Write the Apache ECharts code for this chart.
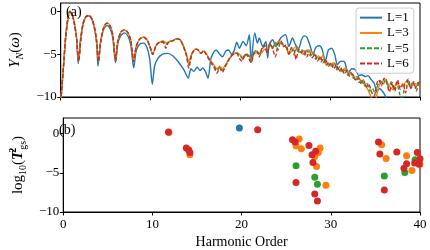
<!DOCTYPE html>
<html><head><meta charset="utf-8">
<script src="https://cdn.jsdelivr.net/npm/echarts@6/dist/echarts.min.js"></script>
<style>html,body{margin:0;padding:0;background:#fff}#c{width:430px;height:250px}</style>
</head><body><div id="c"></div>
<script>
// ---------- data ----------
const seriesNames = ['L=1', 'L=3', 'L=5', 'L=6'];
const xTicks = [0, 10, 20, 30, 40];
const yTicksTop = [-10, -5, 0];
const yTicksBottom = [-10, -5, 0];

const specL1 = [[0,-10.6],[0.3,-6.5],[0.55,-3.0],[0.8,-0.8],[1.0,0],[1.25,-0.3],[1.5,-1.3],[1.75,-3.0],[1.95,-6.1],
[2.2,-3.2],[2.5,-1.4],[2.8,-0.65],[3.15,-0.5],[3.5,-1.0],[3.8,-2.2],[4.0,-3.8],[4.15,-6.4],
[4.4,-3.8],[4.7,-2.3],[5.0,-1.7],[5.2,-1.63],[5.5,-2.0],[5.8,-3.1],[6.1,-6.0],
[6.35,-3.8],[6.7,-2.8],[7.1,-2.5],[7.5,-2.9],[7.8,-3.9],[8.13,-6.6],
[8.4,-4.6],[8.8,-3.8],[9.25,-3.7],[9.6,-4.2],[9.9,-5.5],[10.2,-8.5],
[10.45,-6.4],[10.8,-5.5],[11.3,-5.0],[11.9,-4.9],[12.5,-5.2],[13.1,-5.9],[13.7,-6.8],[14.2,-7.8],
[14.5,-6.7],[14.8,-7.0],[15.2,-6.5],[15.5,-6.9],[15.8,-6.6],[16.1,-7.0],[16.4,-7.8],
[16.7,-5.6],[17.0,-4.8],[17.3,-4.5],[17.7,-5.0],[18.0,-5.3],[18.4,-4.6],[18.7,-4.5],[19.0,-5.0],[19.3,-4.6],[19.6,-3.6],[19.9,-4.3],[20.3,-3.5],[20.65,-4.0],[21.0,-2.7],[21.2,-5.8],[21.6,-2.5],[21.9,-3.7],[22.1,-3.1],[22.5,-4.1],[22.85,-3.5],[23.04,-5.45],[23.2,-3.9],[23.6,-3.3],[23.95,-4.1],[24.2,-3.6],[24.5,-3.1],[24.8,-2.8],[25.05,-2.7],[25.4,-4.1],[25.8,-3.1],[26.15,-3.9],[26.5,-4.3],[26.8,-3.3],[27.1,-2.85],[27.4,-3.0],[27.7,-3.8],[28.1,-5.0],[28.4,-4.2],[28.8,-4.0],[29.1,-4.4],[29.45,-5.8],[29.8,-4.5],[30.15,-4.3],[30.5,-5.0],[30.8,-6.2],[31.2,-5.8],[31.6,-5.9],[32.0,-7.2],[32.4,-6.7],[32.8,-6.8],[33.2,-7.5],[33.5,-7.4],[33.9,-7.6],[34.2,-7.5],[34.6,-8.0],[34.9,-8.4],[35.2,-9.4],[35.5,-9.0],[35.8,-9.3],[36.2,-10.0],[36.6,-11.5],[40,-11.5]];

const specL3 = [[0,-10.6],[0.3,-6.5],[0.55,-3.0],[0.8,-0.8],[1.0,0],[1.25,-0.3],[1.5,-1.3],[1.75,-3.0],[2.0,-5.8],
[2.25,-3.1],[2.5,-1.4],[2.8,-0.6],[3.15,-0.45],[3.5,-0.95],[3.8,-2.1],[4.0,-3.5],[4.2,-5.85],
[4.45,-3.5],[4.75,-2.0],[5.0,-1.45],[5.2,-1.36],[5.5,-1.7],[5.8,-2.8],[6.1,-5.75],
[6.35,-3.5],[6.7,-2.4],[7.1,-2.14],[7.5,-2.5],[7.8,-3.4],[8.13,-5.85],
[8.4,-4.1],[8.8,-3.2],[9.25,-3.0],[9.6,-3.3],[9.9,-4.0],[10.25,-5.0],
[10.6,-4.0],[11.0,-3.6],[11.4,-3.45],[11.8,-3.7],[12.2,-3.5],[12.5,-3.4],[12.9,-3.15],[13.3,-3.3],[13.7,-4.1],[14.0,-5.0],[14.25,-5.9],
[14.6,-4.9],[15.0,-4.4],[15.3,-4.5],[15.6,-4.9],[15.9,-4.6],[16.2,-4.9],[16.5,-5.5],[16.8,-5.9],[17.1,-6.3],[17.4,-6.7],[17.7,-6.4],[18.0,-6.7],[18.3,-6.3],[18.6,-5.8],[18.9,-5.4],[19.2,-5.0],[19.6,-4.8],[20.0,-5.1],[20.3,-5.4],[20.7,-5.0],[21.0,-5.2],[21.2,-5.7],[21.5,-5.0],[21.9,-4.8],[22.3,-4.9],[22.7,-4.4],[23.0,-4.6],[23.2,-3.9],[23.6,-4.1],[24.0,-3.7],[24.3,-3.5],[24.7,-3.9],[25.05,-4.1],[25.4,-5.0],[25.8,-4.5],[26.15,-4.1],[26.6,-4.7],[27.0,-5.0],[27.3,-4.6],[27.6,-4.5],[28.1,-4.9],[28.5,-5.2],[28.9,-5.6],[29.2,-5.1],[29.5,-6.2],[29.9,-6.2],[30.4,-6.0],[30.8,-6.6],[31.2,-7.0],[31.7,-6.6],[32.0,-7.1],[32.4,-7.4],[32.9,-8.0],[33.2,-7.8],[33.5,-8.2],[33.9,-8.6],[34.2,-9.15],[34.6,-10.1],[34.9,-10.6],[35.1,-10.2],[35.4,-8.8],[35.8,-8.2],[36.15,-8.0],[36.5,-8.6],[37.0,-9.15],[37.4,-8.4],[37.9,-8.8],[38.5,-8.2],[39.0,-8.8],[39.4,-8.4],[39.9,-8.6],[40,-8.5]];

const specL5 = [[0,-10.6],[0.3,-6.5],[0.55,-3.0],[0.8,-0.8],[1.0,0],[1.25,-0.3],[1.5,-1.3],[1.75,-3.0],[2.0,-5.8],
[2.25,-3.1],[2.5,-1.4],[2.8,-0.6],[3.15,-0.45],[3.5,-0.95],[3.8,-2.1],[4.0,-3.5],[4.2,-5.85],
[4.45,-3.5],[4.75,-2.0],[5.0,-1.45],[5.2,-1.36],[5.5,-1.7],[5.8,-2.8],[6.1,-5.75],
[6.35,-3.5],[6.7,-2.4],[7.1,-2.14],[7.5,-2.5],[7.8,-3.4],[8.13,-5.85],
[8.4,-4.1],[8.8,-3.2],[9.25,-3.0],[9.6,-3.3],[9.9,-4.0],[10.25,-5.0],
[10.6,-4.0],[11.0,-3.6],[11.4,-3.5],[11.7,-3.9],[12.0,-3.5],[12.5,-3.4],[12.9,-3.2],[13.3,-3.3],[13.7,-4.2],[14.0,-5.1],[14.25,-6.2],[14.6,-5.0],[15.0,-4.4],[15.3,-4.5],[15.6,-4.9],[15.9,-4.6],[16.2,-5.0],[16.5,-5.5],[16.8,-6.0],[17.1,-6.5],[17.4,-6.9],[17.7,-6.5],[18.0,-6.9],[18.3,-6.4],[18.6,-5.8],[18.9,-5.3],[19.2,-5.0],[19.6,-4.9],[20.0,-5.2],[20.3,-5.6],[20.6,-4.9],[21.0,-5.3],[21.2,-5.9],[21.5,-4.8],[21.8,-4.5],[22.1,-5.1],[22.4,-4.4],[22.7,-4.1],[23.0,-4.8],[23.3,-3.8],[23.6,-4.3],[23.9,-3.6],[24.2,-4.5],[24.5,-3.5],[24.8,-3.9],[25.1,-4.2],[25.4,-4.8],[25.7,-4.3],[26.0,-5.1],[26.3,-4.2],[26.6,-4.9],[26.9,-4.5],[27.2,-5.1],[27.5,-4.6],[27.8,-5.2],[28.1,-4.8],[28.4,-5.6],[28.7,-5.2],[29.0,-5.9],[29.3,-5.5],[29.6,-6.3],[29.9,-5.9],[30.2,-6.5],[30.5,-6.1],[30.8,-6.9],[31.1,-6.4],[31.4,-7.1],[31.7,-6.8],[32.0,-7.5],[32.3,-7.1],[32.6,-7.8],[32.9,-7.5],[33.2,-8.3],[33.5,-7.9],[33.8,-8.7],[34.1,-8.3],[34.4,-9.3],[34.7,-9.0],[35.0,-9.6],[35.3,-8.6],[35.6,-8.1],[35.9,-8.5],[36.2,-7.9],[36.5,-8.9],[36.8,-8.2],[37.1,-9.2],[37.4,-8.3],[37.7,-9.5],[38.0,-10.5],[38.3,-8.6],[38.6,-8.0],[38.9,-8.9],[39.2,-8.2],[39.5,-9.0],[39.8,-8.3],[40,-8.6]];

const specL6 = [[0,-10.6],[0.3,-6.5],[0.55,-3.0],[0.8,-0.8],[1.0,0],[1.25,-0.3],[1.5,-1.3],[1.75,-3.0],[2.0,-5.8],
[2.25,-3.1],[2.5,-1.4],[2.8,-0.6],[3.15,-0.45],[3.5,-0.95],[3.8,-2.1],[4.0,-3.5],[4.2,-5.85],
[4.45,-3.5],[4.75,-2.0],[5.0,-1.45],[5.2,-1.36],[5.5,-1.7],[5.8,-2.8],[6.1,-5.75],
[6.35,-3.5],[6.7,-2.4],[7.1,-2.14],[7.5,-2.5],[7.8,-3.4],[8.13,-5.85],
[8.4,-4.1],[8.8,-3.2],[9.25,-3.0],[9.6,-3.3],[9.9,-4.0],[10.25,-5.0],
[10.6,-4.0],[11.0,-3.6],[11.4,-3.6],[11.7,-4.3],[12.0,-3.6],[12.5,-3.4],[12.9,-3.2],[13.3,-3.3],[13.7,-4.2],[14.0,-5.2],[14.25,-6.6],[14.6,-5.0],[15.0,-4.4],[15.3,-4.5],[15.6,-4.9],[15.9,-4.6],[16.2,-5.0],[16.5,-5.6],[16.8,-6.1],[17.1,-6.6],[17.4,-7.2],[17.7,-6.6],[18.0,-7.1],[18.3,-6.5],[18.6,-5.9],[18.9,-5.3],[19.2,-5.0],[19.6,-4.9],[19.9,-5.5],[20.2,-5.8],[20.5,-5.0],[20.8,-5.2],[21.2,-6.0],[21.5,-4.9],[21.8,-4.6],[22.1,-5.3],[22.4,-4.3],[22.7,-3.9],[23.0,-4.9],[23.3,-3.7],[23.6,-4.4],[23.9,-5.3],[24.2,-3.8],[24.5,-3.4],[24.8,-4.1],[25.1,-3.9],[25.4,-5.0],[25.7,-4.2],[26.0,-4.6],[26.2,-5.6],[26.5,-4.4],[26.8,-4.8],[27.1,-4.5],[27.4,-5.3],[27.7,-4.7],[28.0,-5.4],[28.3,-5.0],[28.6,-5.8],[28.9,-5.3],[29.2,-6.0],[29.5,-5.6],[29.8,-6.4],[30.1,-6.0],[30.4,-6.7],[30.7,-6.2],[31.0,-7.0],[31.3,-6.6],[31.6,-7.3],[31.9,-6.9],[32.2,-7.6],[32.5,-7.3],[32.8,-8.0],[33.1,-7.6],[33.4,-8.4],[33.7,-8.0],[34.0,-8.8],[34.3,-8.5],[34.6,-9.4],[34.9,-9.9],[35.2,-8.4],[35.4,-8.0],[35.7,-8.7],[36.0,-7.8],[36.3,-8.4],[36.6,-9.4],[36.9,-8.3],[37.2,-9.3],[37.5,-8.0],[37.8,-9.1],[38.1,-8.4],[38.4,-9.5],[38.7,-7.9],[39.0,-9.0],[39.3,-8.2],[39.6,-9.3],[39.9,-8.1],[40,-8.3]];

const tL1 = [[19.75,0.73]];
const tL3 = [[11.85,0.15],[14.2,-2.7],[26.1,-1.54],[26.45,-0.68],[26.7,-1.92],[28.2,-2.9],[28.6,-2.4],[28.8,-1.84],[28.4,-4.2],[29.45,-6.6],[35.7,-1.4],[36.2,-3.16],[38.5,-2.82],[39.1,-4.7],[40.0,-3.9]];
const tL5 = [[26.1,-4.1],[28.2,-5.55],[28.5,-6.45],[36.0,-5.4],[38.3,-4.96],[39.45,-3.33],[39.9,-3.6]];
const tL6 = [[11.8,0.2],[13.8,-1.84],[14.07,-2.1],[14.2,-2.4],[21.8,0.51],[25.7,-0.77],[26.0,-1.07],[27.55,-1.5],[27.9,-2.7],[28.3,-2.26],[28.0,-3.67],[26.1,-6.24],[28.2,-7.7],[28.5,-8.6],[35.35,-1.07],[35.5,-2.6],[37.4,-2.35],[39.7,-2.4],[36.0,-7.2],[38.5,-3.85],[38.2,-4.4],[39.4,-3.76],[40.0,-3.2],[39.9,-3.9]];

// ---------- styling ----------
const colors = ['#1f77b4', '#ff7f0e', '#2ca02c', '#d62728'];
const FF = '"Liberation Serif", "DejaVu Serif", serif';
const fmt = v => (v < 0 ? '\u2212' + Math.abs(v) : String(v));
const SOLID_ICON = 'path://M0,0H22V2H0Z';
const DASH_ICON = 'path://M0,0H5V2H0Z M7,0H12V2H7Z M14,0H19V2H14Z M21,0H22V2H21Z';
const baseAxis = {
  type: 'value',
  axisLine: { show: true, onZero: false, lineStyle: { color: '#000', width: 1 } },
  axisTick: { show: true, length: 3.5, lineStyle: { color: '#000', width: 1 } },
  splitLine: { show: false },
  axisLabel: { fontFamily: FF, fontSize: 13, color: '#000', formatter: fmt }
};
function ax(extra) { return echarts.util.merge(echarts.util.clone(baseAxis), extra, true); }

const chart = echarts.init(document.getElementById('c'), null, { renderer: 'canvas' });
const lineSpecs = [specL1, specL3, specL5, specL6];
const dots = [tL1, tL3, tL5, tL6];
const series = [];
lineSpecs.forEach((d, i) => series.push({
  name: seriesNames[i], type: 'line', xAxisIndex: 0, yAxisIndex: 0, data: d,
  showSymbol: false, symbol: 'none', smooth: 0.25, clip: true,
  lineStyle: { color: colors[i], width: 1.4, type: i >= 2 ? [4, 2] : 'solid' },
  itemStyle: { color: colors[i] }, z: 2 + i
}));
dots.forEach((d, i) => series.push({
  name: 's' + i, type: 'scatter', xAxisIndex: 1, yAxisIndex: 1, data: d,
  symbolSize: 7, clip: true, itemStyle: { color: colors[i], opacity: 1 }, z: 2 + i
}));

chart.setOption({
  animation: false,
  backgroundColor: '#fff',
  grid: [
    { left: 56, top: 3, width: 364, height: 94, show: true, borderColor: '#000', borderWidth: 1 },
    { left: 56, top: 118, width: 364, height: 94, show: true, borderColor: '#000', borderWidth: 1 }
  ],
  xAxis: [
    ax({ gridIndex: 0, min: 0, max: 40, interval: 10, axisLabel: { show: false } }),
    ax({ gridIndex: 1, min: 0, max: 40, interval: 10, axisLabel: { margin: 6, customValues: xTicks },
      name: 'Harmonic Order', nameLocation: 'middle', nameGap: 23,
      nameTextStyle: { fontFamily: FF, fontSize: 14, color: '#000' } })
  ],
  yAxis: [
    ax({ gridIndex: 0, min: -10, max: 1, interval: 5,
      axisTick: { customValues: yTicksTop }, axisLabel: { margin: 4, customValues: yTicksTop },
      name: '{i|Y}{sub|N}{n|(}{i|\u03c9}{n|)}', nameLocation: 'middle', nameGap: 34,
      nameTextStyle: { rich: {
        i: { fontFamily: FF, fontStyle: 'italic', fontSize: 15, color: '#000', lineHeight: 20 },
        n: { fontFamily: FF, fontSize: 15, color: '#000', lineHeight: 20 },
        sub: { fontFamily: FF, fontStyle: 'italic', fontSize: 10, color: '#000', verticalAlign: 'bottom' }
      } } }),
    ax({ gridIndex: 1, min: -10, max: 2, interval: 5,
      axisTick: { customValues: yTicksBottom }, axisLabel: { margin: 4, customValues: yTicksBottom },
      name: '{n|log}{sub|10}{n|(}{b|T}{sup|2}{sub|gs}{n|)}', nameLocation: 'middle', nameGap: 34,
      nameTextStyle: { rich: {
        n: { fontFamily: FF, fontSize: 15, color: '#000', lineHeight: 20 },
        b: { fontFamily: FF, fontStyle: 'italic', fontWeight: 'bold', fontSize: 15, color: '#000', lineHeight: 20 },
        sub: { fontFamily: FF, fontSize: 10, color: '#000', verticalAlign: 'bottom' },
        sup: { fontFamily: FF, fontSize: 10, fontWeight: 'bold', color: '#000', verticalAlign: 'top', width: 1 }
      } } })
  ],
  legend: {
    data: seriesNames.map((n, i) => ({ name: n, icon: i >= 2 ? DASH_ICON : SOLID_ICON })),
    orient: 'vertical', left: 356, top: 8,
    itemWidth: 22, itemHeight: 2, itemGap: 2, itemStyle: { borderWidth: 0 },
    padding: [3, 5, 3, 4], borderColor: '#ccc', borderWidth: 1, borderRadius: 3,
    backgroundColor: 'rgba(255,255,255,0.8)',
    textStyle: { fontFamily: FF, fontSize: 13, color: '#000', lineHeight: 13.3 }
  },
  graphic: [
    { type: 'text', left: 66, top: 5, style: { text: '(a)', font: '14px ' + FF, fill: '#000' }, z: 100 },
    { type: 'text', left: 59, top: 123, style: { text: '(b)', font: '14px ' + FF, fill: '#000' }, z: 100 }
  ],
  series: series
});
</script></body></html>
